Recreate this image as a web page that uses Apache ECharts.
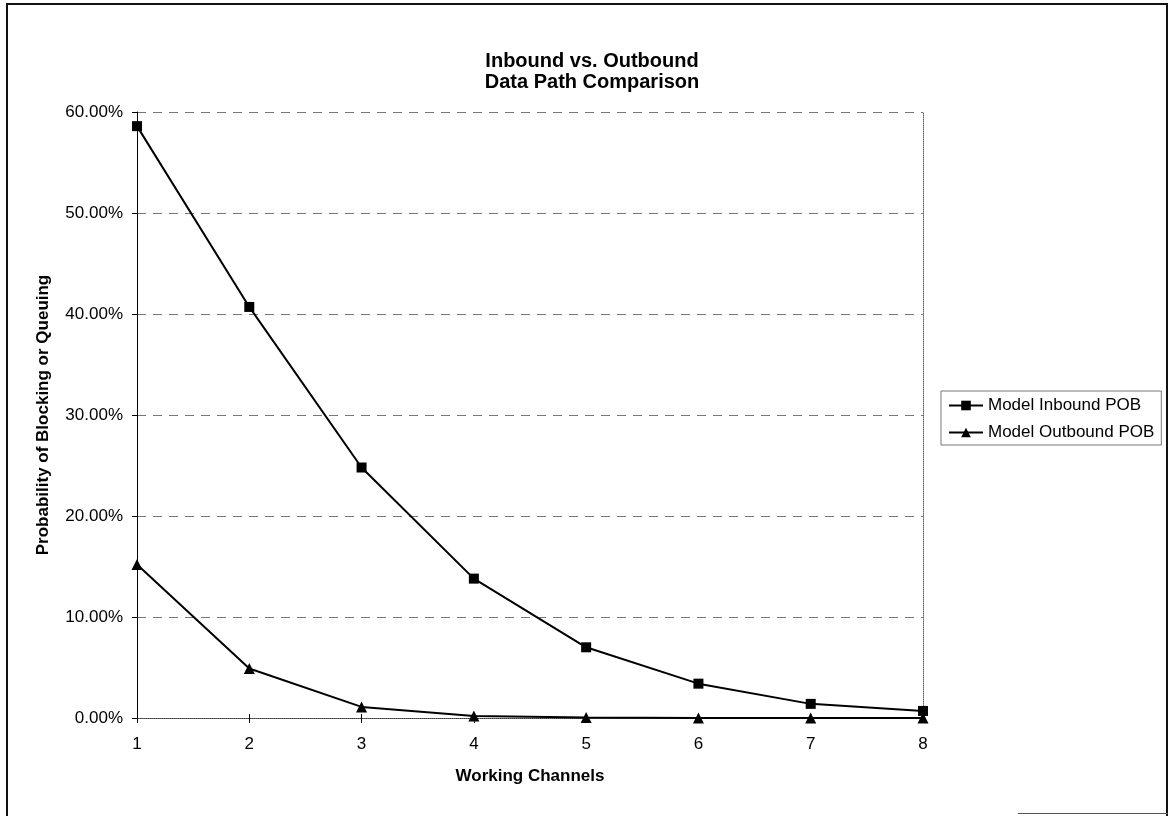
<!DOCTYPE html>
<html>
<head>
<meta charset="utf-8">
<script src="https://cdn.jsdelivr.net/npm/echarts@6/dist/echarts.min.js"></script>
<style>
  html, body { margin: 0; padding: 0; background: #fff; }
  #frame { position: absolute; left: 6px; top: 3px; width: 1162px; height: 813px;
           border-left: 2px solid #111; border-top: 2px solid #111; border-right: 2px solid #111; box-sizing: border-box; }
  #foot { position: absolute; left: 1018px; top: 813px; width: 150px; height: 0; border-top: 1px solid #555; }
  #chart { position: absolute; left: 0; top: 0; width: 1171px; height: 816px; }
</style>
</head>
<body>
<div id="chart"></div>
<div id="frame"></div>
<div id="foot"></div>
<script>
// Working channels on the x axis
const channels = ['1', '2', '3', '4', '5', '6', '7', '8'];
// Probability of blocking / queuing per channel count (fractions)
const inboundPOB = [0.586, 0.407, 0.248, 0.138, 0.070, 0.034, 0.014, 0.007];
const outboundPOB = [0.152, 0.049, 0.011, 0.002, 0.0005, 0.0001, 0.0, 0.0];
const seriesNames = ['Model Inbound POB', 'Model Outbound POB'];

const font = 'Liberation Sans, Arial, sans-serif';
const chart = echarts.init(document.getElementById('chart'), null, { renderer: 'canvas' });

chart.setOption({
  animation: false,
  backgroundColor: '#fff',
  // two-line chart title, centred on the whole chart area
  title: {
    text: 'Inbound vs. Outbound\nData Path Comparison',
    left: 587, top: 46, textAlign: 'center',
    textStyle: { fontFamily: font, fontSize: 20, fontWeight: 'bold', color: '#000', lineHeight: 21 }
  },
  legend: {
    data: seriesNames,
    orient: 'vertical',
    left: 941, top: 391,
    padding: [5, 7, 3, 7],
    itemGap: 8,
    itemWidth: 34, itemHeight: 12,
    borderColor: '#777', borderWidth: 1,
    textStyle: { fontFamily: font, fontSize: 17, lineHeight: 19, color: '#000' }
  },
  grid: { left: 137, right: 248, top: 112, bottom: 98, containLabel: false },
  xAxis: [{
    type: 'category',
    data: channels,
    boundaryGap: false,
    name: 'Working Channels',
    nameLocation: 'middle',
    nameGap: 50,
    nameTextStyle: { fontFamily: font, fontSize: 17, fontWeight: 'bold', color: '#000' },
    axisLine: { lineStyle: { color: '#000', width: 1 } },
    axisTick: { show: true, length: 5, lineStyle: { color: '#000' } },
    axisLabel: { fontFamily: font, fontSize: 17, color: '#000', margin: 18 },
    splitLine: { show: false }
  }, {
    // dotted frame along the top of the plot
    type: 'category',
    data: channels,
    boundaryGap: false,
    position: 'top',
    axisLine: { lineStyle: { color: '#666', type: 'dotted', width: 1 } },
    axisTick: { show: false },
    axisLabel: { show: false }
  }, {
    // inner half of the crossing x ticks
    type: 'category',
    data: channels,
    boundaryGap: false,
    position: 'bottom',
    axisLine: { show: false },
    axisTick: { show: true, inside: true, length: 4, lineStyle: { color: '#000' } },
    axisLabel: { show: false }
  }],
  yAxis: [{
    type: 'value',
    min: 0, max: 0.6, interval: 0.1,
    name: 'Probability of Blocking or Queuing',
    nameLocation: 'middle',
    nameGap: 85,
    nameTextStyle: { fontFamily: font, fontSize: 17, fontWeight: 'bold', color: '#000' },
    axisLine: { show: true, lineStyle: { color: '#000', width: 1 } },
    axisTick: { show: true, length: 5, lineStyle: { color: '#000' } },
    axisLabel: {
      fontFamily: font, fontSize: 17, color: '#000', margin: 14,
      formatter: v => (v * 100).toFixed(2) + '%'
    },
    splitLine: { show: true, lineStyle: { color: '#777', type: [9, 7], width: 1 } }
  }, {
    // dotted frame along the right of the plot
    type: 'value',
    min: 0, max: 0.6, interval: 0.1,
    position: 'right',
    axisLine: { show: true, lineStyle: { color: '#666', type: 'dotted', width: 1 } },
    axisTick: { show: false },
    axisLabel: { show: false },
    splitLine: { show: false }
  }],
  series: [{
    name: seriesNames[0],
    type: 'line',
    data: inboundPOB,
    symbol: 'rect',
    symbolSize: 10,
    lineStyle: { color: '#000', width: 2 },
    itemStyle: { color: '#000' },
    z: 3
  }, {
    name: seriesNames[1],
    type: 'line',
    data: outboundPOB,
    symbol: 'triangle',
    symbolSize: 11,
    lineStyle: { color: '#000', width: 2 },
    itemStyle: { color: '#000' },
    z: 3
  }]
});
</script>
</body>
</html>
